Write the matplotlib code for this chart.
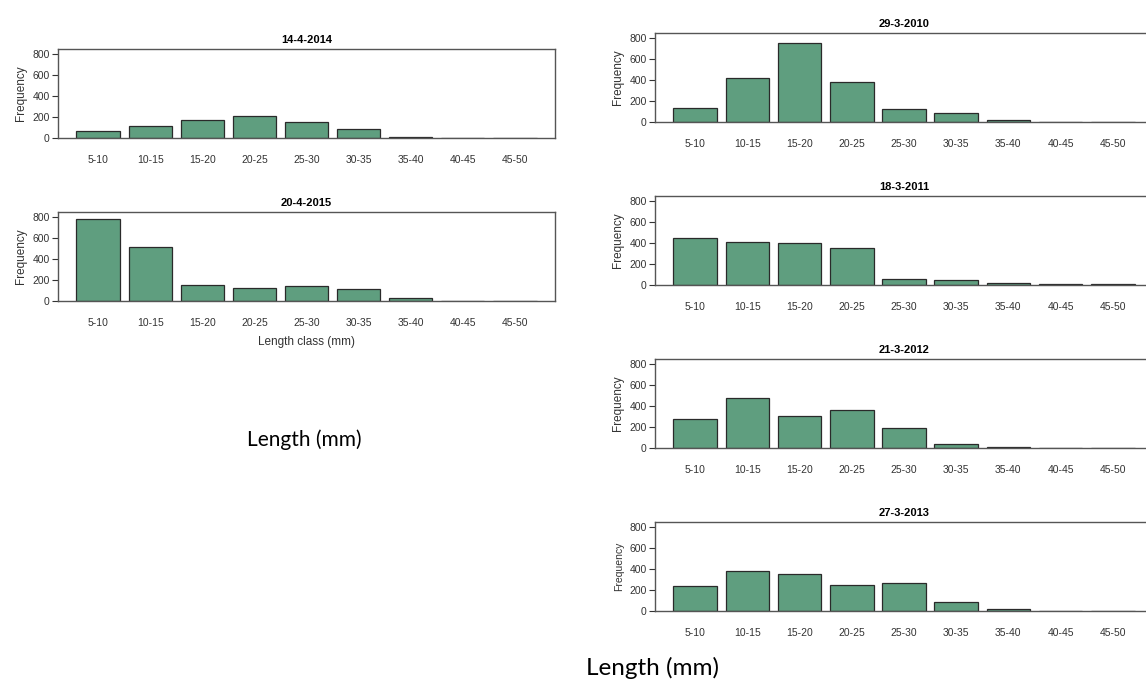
import matplotlib
matplotlib.use("Agg")
import matplotlib.pyplot as plt
import numpy as np

# length classes shared by every panel
classes = ['5-10', '10-15', '15-20', '20-25', '25-30', '30-35', '35-40', '40-45', '45-50']

# frequencies
freq_2014 = [70, 115, 175, 205, 150, 90, 8, 0, 0]
freq_2015 = [775, 510, 155, 125, 145, 115, 30, 3, 0]
freq_2010 = [135, 420, 750, 380, 125, 85, 20, 0, 0]
freq_2011 = [445, 405, 400, 355, 60, 45, 15, 5, 5]
freq_2012 = [280, 470, 305, 360, 190, 40, 12, 0, 0]
freq_2013 = [240, 380, 355, 250, 270, 90, 15, 0, 0]

W, H = 1146, 684
BAR_COLOR = '#5f9e7f'

plt.rcParams['font.family'] = ['Liberation Sans', 'DejaVu Sans']


def px_axes(fig, x0, x1, y0, y1):
    # axes placed from pixel box (y measured from top)
    return fig.add_axes([x0 / W, 1 - y1 / H, (x1 - x0) / W, (y1 - y0) / H])


def draw_panel(ax, values, title, ylabel_size=8.5):
    # R barplot layout: width 1, space 0.2
    x = 0.7 + 1.2 * np.arange(len(classes))
    ax.bar(x, values, width=1.0, color=BAR_COLOR, edgecolor='#2a2a2a', linewidth=0.9)
    ax.set_xlim(-0.224, 11.224)
    ax.set_ylim(0, 845)
    ax.set_yticks([0, 200, 400, 600, 800])
    ax.tick_params(axis='y', labelsize=7.5, length=4, width=0.8, pad=2,
                   colors='#333333')
    ax.set_xticks(x)
    ax.set_xticklabels(classes, fontsize=7.5, color='#333333')
    ax.tick_params(axis='x', length=0, pad=12)
    ax.set_ylabel('Frequency', fontsize=ylabel_size, color='#333333', labelpad=4)
    ax.set_title(title, fontsize=8, fontweight='bold', pad=4)
    for s in ax.spines.values():
        s.set_color('#555555')
        s.set_linewidth(1.0)


fig = plt.figure(figsize=(W / 100, H / 100), dpi=100)

ax1 = px_axes(fig, 58, 555, 49, 138)
draw_panel(ax1, freq_2014, '14-4-2014')

ax2 = px_axes(fig, 58, 555, 212, 301)
draw_panel(ax2, freq_2015, '20-4-2015')
ax2.set_xlabel('Length class (mm)', fontsize=8.5, color='#333333', labelpad=6)

ax3 = px_axes(fig, 655, 1153, 33, 122)
draw_panel(ax3, freq_2010, '29-3-2010')

ax4 = px_axes(fig, 655, 1153, 196, 285)
draw_panel(ax4, freq_2011, '18-3-2011')

ax5 = px_axes(fig, 655, 1153, 359, 448)
draw_panel(ax5, freq_2012, '21-3-2012')

ax6 = px_axes(fig, 655, 1153, 522, 611)
draw_panel(ax6, freq_2013, '27-3-2013', ylabel_size=7.5)

fig.text(304 / W, 1 - 440 / H, 'Length (mm)', fontsize=15, family=['Lato', 'DejaVu Sans'],
         ha='center', va='center')
fig.text(652 / W, 1 - 668 / H, 'Length (mm)', fontsize=17.5, family=['Lato', 'DejaVu Sans'],
         ha='center', va='center')

fig.savefig('out.png', dpi=100)
